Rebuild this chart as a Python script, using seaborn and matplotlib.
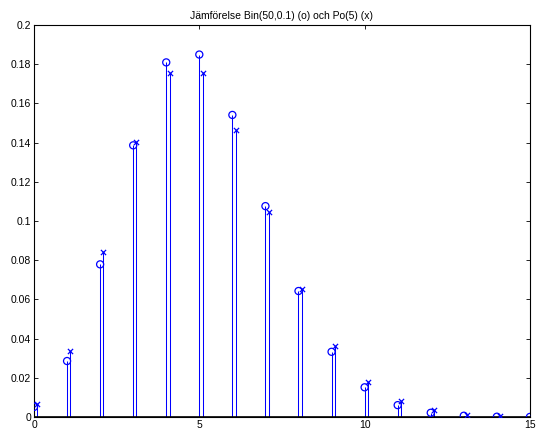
import numpy as np
import pandas as pd
import matplotlib
matplotlib.use('Agg')
import matplotlib.pyplot as plt
import seaborn as sns
from matplotlib.ticker import FuncFormatter

# data
k = list(range(16))
bin_p = [0.0052, 0.0286, 0.0779, 0.1386, 0.1809, 0.1849, 0.1541, 0.1076,
         0.0643, 0.0333, 0.0152, 0.0061, 0.0022, 0.0007, 0.0002, 0.0001]
po_p = [0.0067, 0.0337, 0.0842, 0.1404, 0.1755, 0.1755, 0.1462, 0.1044,
        0.0653, 0.0363, 0.0181, 0.0082, 0.0034, 0.0013, 0.0005, 0.0002]
po_shift = 0.1

sns.set_style('ticks')
plt.rcParams['font.family'] = ['Liberation Sans', 'DejaVu Sans']
plt.rcParams['font.size'] = 7.5

df_bin = pd.DataFrame({'k': k, 'p': bin_p})
df_po = pd.DataFrame({'k': [x + po_shift for x in k], 'p': po_p})

fig = plt.figure(figsize=(5.38, 4.30), dpi=100)
ax = fig.add_axes([0.0632, 0.030, 0.9218, 0.912])

blue = '#0000ff'
# stems
ax.vlines(df_bin['k'], 0, df_bin['p'], color=blue, lw=0.75)
ax.vlines(df_po['k'], 0, df_po['p'], color=blue, lw=0.75)
# markers
sns.scatterplot(data=df_bin, x='k', y='p', ax=ax, marker='o', s=26,
                facecolor='none', edgecolor=blue, linewidth=0.9, zorder=3)
sns.scatterplot(data=df_po, x='k', y='p', ax=ax, marker='x', s=14,
                color=blue, linewidth=0.9, zorder=3)
ax.axhline(0, color='black', lw=1.2)

ax.set_xlim(0, 15)
ax.set_ylim(0, 0.2)
ax.set_xticks([0, 5, 10, 15])
ax.set_yticks(np.arange(0, 0.2001, 0.02))
ax.yaxis.set_major_formatter(FuncFormatter(lambda v, pos: '%g' % round(v, 2)))
ax.set_xlabel('')
ax.set_ylabel('')
ax.tick_params(direction='in', top=True, right=True, length=3, width=0.6,
               pad=2, color='black', labelcolor='black')
for s in ax.spines.values():
    s.set_linewidth(0.8)
    s.set_color('black')
    s.set_visible(True)
ax.set_title('Jämförelse Bin(50,0.1) (o) och Po(5) (x)', fontsize=7.5, pad=4,
             color='black')

fig.savefig('out.png', dpi=100)
